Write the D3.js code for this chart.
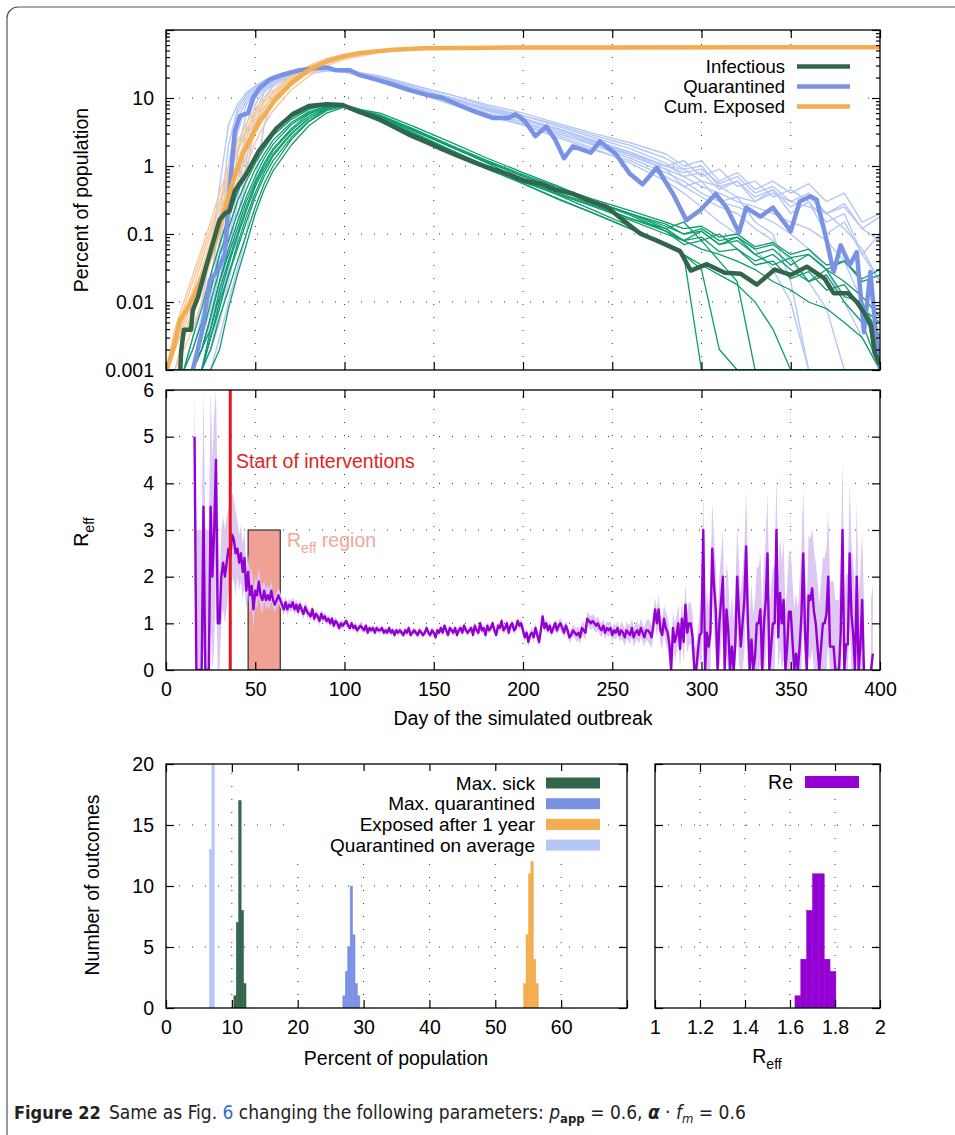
<!DOCTYPE html>
<html>
<head>
<meta charset="utf-8">
<script src="https://cdn.jsdelivr.net/npm/d3@7"></script>
<style>
  body { margin: 0; background: #fff; }
  text { font-family: "Liberation Sans", Arial, sans-serif; }
  .grid { stroke: #333; stroke-width: 1; stroke-dasharray: 1 12; }
</style>
</head>
<body>
<svg id="fig" width="955" height="1135"></svg>
<script>
// ---------------- data ----------------

// top panel: days at which the single runs were read
const dayGrid = [0,5,10,15,20,25,30,35,40,45,50,55,60,70,80,90,100,120,140,160,180,200,220,240,260,280,290,300,310,320,330,340,350,360,370,380,390,400];

// infectious, single runs (percent of population)
const infectiousRuns = [
  [0,0,0,0,0.002,0.006,0.02,0.05,0.12,0.3,0.6,1.1,1.8,3.5,5.8,7.5,7.8,5.0,2.9,1.7,1.0,0.62,0.4,0.27,0.17,0.11,0.08,0.09,0.055,0.06,0.035,0.04,0.022,0.028,0.015,0.018,0.008,0.005],
  [0,0,0,0.002,0.005,0.015,0.05,0.12,0.3,0.6,1.1,1.8,2.8,4.8,6.8,7.9,7.4,4.6,2.7,1.6,1.0,0.65,0.43,0.3,0.2,0.14,0.1,0.12,0.08,0.09,0.06,0.07,0.045,0.05,0.03,0.04,0.022,0.03],
  [0,0,0,0,0,0.002,0.006,0.015,0.04,0.1,0.25,0.55,1.0,2.4,4.5,6.5,7.6,5.2,3.0,1.7,0.95,0.55,0.33,0.2,0.12,0.07,0.05,0,0,0,0,0,0,0,0,0,0,0],
  [0,0,0,0.001,0.003,0.01,0.03,0.08,0.2,0.45,0.9,1.5,2.4,4.3,6.3,7.6,7.7,5.3,3.2,1.9,1.15,0.7,0.45,0.3,0.2,0.13,0.1,0.11,0.07,0.08,0.05,0.035,0.045,0.02,0.03,0.012,0.01,0.003],
  [0,0,0,0,0.002,0.004,0.012,0.035,0.09,0.22,0.5,0.9,1.5,3.0,5.0,7.0,7.7,5.1,2.9,1.6,0.9,0.55,0.32,0.2,0.12,0.07,0.05,0.035,0.025,0.018,0.01,0.004,0,0,0,0,0,0],
  [0,0,0,0,0,0.003,0.008,0.025,0.07,0.18,0.4,0.8,1.4,2.9,5.0,7.0,7.8,5.4,3.2,1.9,1.1,0.62,0.37,0.22,0.13,0.07,0.05,0.03,0.002,0,0,0,0,0,0,0,0,0],
  [0,0,0,0,0.001,0.003,0.01,0.025,0.06,0.15,0.35,0.7,1.2,2.6,4.6,6.8,7.9,5.6,3.4,2.0,1.2,0.75,0.48,0.32,0.22,0.15,0.12,0.13,0.09,0.1,0.065,0.075,0.05,0.06,0.035,0.04,0.02,0.025],
  [0,0,0,0.001,0.002,0.006,0.02,0.06,0.15,0.35,0.7,1.3,2.1,4.0,6.0,7.3,7.5,4.8,2.8,1.6,0.95,0.6,0.38,0.25,0.16,0.1,0.08,0.06,0.05,0.04,0.03,0.02,0.015,0.01,0.008,0.005,0.003,0],
  [0,0,0,0,0,0,0.002,0.008,0.025,0.07,0.2,0.45,0.85,2.0,3.9,6.0,7.4,6.0,3.7,2.2,1.3,0.8,0.5,0.3,0.19,0.11,0.07,0.08,0.04,0.02,0,0,0,0,0,0,0,0],
  [0,0,0.001,0.003,0.008,0.025,0.07,0.18,0.4,0.8,1.4,2.2,3.2,5.2,7.0,7.9,7.2,4.5,2.6,1.5,0.9,0.58,0.38,0.26,0.17,0.12,0.08,0.11,0.07,0.09,0.05,0.06,0.035,0.05,0.03,0.02,0.012,0.006],
  [0,0,0,0,0.001,0.004,0.015,0.04,0.1,0.25,0.55,1.0,1.7,3.3,5.4,7.2,7.8,5.5,3.3,1.9,1.15,0.72,0.45,0.3,0.2,0.12,0.15,0.08,0.1,0.06,0.04,0.05,0.03,0.02,0.025,0.01,0.005,0]
];

// quarantined, single runs
const quarantinedRuns = [
  [0,0,0,0.001,0.003,0.008,0.05,0.6,5,9,13,17,20,24,26,27,26,20,14,10,7,5.5,3.8,2.6,1.8,1.1,0.7,0.8,0.45,0.6,0.35,0.45,0.25,0.35,0.2,0.28,0.12,0.18],
  [0,0,0,0,0.002,0.005,0.02,0.1,1.5,6,11,15,19,23,26,27,25,19,13,9,6,4.5,3,2,1.3,0.8,0.6,0.4,0.3,0.25,0.2,0.15,0.1,0.06,0.03,0.01,0.003,0],
  [0,0,0,0,0.001,0.003,0.01,0.04,0.3,2.5,8,13,17,22,25,26,25,21,15,11,8,6,4.2,3,2.2,1.5,1.0,1.2,0.6,0.8,0.45,0.6,0.4,0.55,0.3,0.4,0.15,0.2],
  [0,0,0,0.002,0.006,0.02,0.15,2,7,11,15,18,21,25,27,27,24,18,12,8.5,5.5,4,2.8,1.8,1.1,0.6,0.4,0.25,0.15,0.1,0.06,0.03,0.01,0,0,0,0,0],
  [0,0,0,0,0,0.002,0.005,0.02,0.08,0.8,4,10,15,21,25,27,26,21,15,11,7.5,5.5,4,2.8,2,1.3,0.9,1.0,0.5,0.6,0.3,0.45,0.2,0.3,0.1,0.15,0.05,0.1],
  [0,0,0,0.001,0.004,0.012,0.08,1,6,10,14,17,20,24,26,26,24,18,12,8,5.5,4,2.6,1.7,1.2,0.7,0.5,0.35,0.25,0.2,0.12,0.08,0.04,0.02,0.008,0,0,0],
  [0,0,0,0,0.002,0.006,0.03,0.3,3,8,12,16,19,23,26,27,26,20,14,10,6.5,5,3.5,2.4,1.6,1.0,0.9,0.6,0.5,0.35,0.3,0.4,0.3,0.25,0.2,0.12,0.06,0.02],
  [0,0,0,0,0.001,0.004,0.015,0.06,0.5,4,10,14,18,22,25,26,25,19.5,13.5,9.5,6.5,4.8,3.2,2.2,1.4,0.9,0.7,0.5,0.4,0.3,0.25,0.2,0.15,0.12,0.08,0.04,0.01,0],
  [0,0,0,0,0,0.001,0.003,0.01,0.03,0.1,0.6,4,10,18,23,25,25,20,14,10,7,5,3.5,2.3,1.5,0.9,0.5,0.6,0.3,0.35,0.15,0.1,0.02,0,0,0,0,0],
  [0,0,0.001,0.003,0.01,0.05,0.5,4,8,12,15,18,21,25,27,28,26,19,12.5,8.5,6,4.2,3,2.1,1.5,1.0,0.8,0.9,0.55,0.7,0.4,0.5,0.3,0.4,0.2,0.25,0.12,0.08],
  [0,0,0,0,0.001,0.002,0.008,0.03,0.15,1.2,6,12,16,22,25,27,25,20,13.5,9.5,6.8,5,3.4,2.3,1.6,1.0,1.2,0.7,0.9,0.5,0.6,0.35,0.45,0.3,0.15,0.2,0.05,0.02]
];

// cumulative exposed, single runs
const exposedGrid = [0,5,10,15,20,25,30,35,40,45,50,55,60,70,80,90,100,120,140,160,200,400];
const exposedRuns = [
  [0.001,0.003,0.008,0.02,0.05,0.12,0.3,0.8,1.8,3.5,6,9,12,20,29,37,43,50,53,54.5,55.4,55.7],
  [0,0.002,0.004,0.01,0.025,0.06,0.15,0.4,1.0,2.2,4.2,7,10,18,27,35,41,49,53,54.5,55.5,56],
  [0,0.001,0.003,0.006,0.015,0.04,0.1,0.25,0.6,1.4,3,5,8,15,24,32,39,48,52.5,54,55,55.2],
  [0.001,0.002,0.006,0.015,0.04,0.1,0.25,0.7,1.6,3.2,5.5,8.5,11.5,19,28,36,42,50,53.5,55,55.8,56.2],
  [0,0.001,0.002,0.004,0.01,0.025,0.07,0.18,0.45,1.0,2.2,4,6.5,13,21,30,37,47,52,54,55,55.4],
  [0.001,0.002,0.005,0.012,0.03,0.08,0.2,0.5,1.2,2.6,4.8,7.5,10.5,18,26.5,34.5,40.5,49,53,54.5,55.3,55.6],
  [0,0.001,0.003,0.008,0.02,0.05,0.12,0.3,0.8,1.8,3.5,6,9,16,25,33,40,48.5,52.5,54.3,55,55.3],
  [0.001,0.004,0.01,0.025,0.06,0.15,0.4,1.0,2.2,4.2,7,10,13,21,30,38,44,51,54,55,55.8,56.3]
];

// averages, [day, percent]
const infectiousMean = [[8,0.001],[8.5,0.0019],[10,0.0039],[14,0.0039],[15,0.0076],[18,0.012],[22.7,0.035],[26,0.07],[30,0.16],[33,0.2],[35.7,0.22],[38.5,0.43],[45,0.76],[52,1.66],[62,3.6],[71,5.8],[80,7.6],[90,8.1],[99,7.9],[108,6.3],[118,5.1],[127,3.85],[136,2.9],[145,2.3],[155,1.75],[164,1.4],[173,1.12],[183,0.9],[192,0.76],[201,0.6],[210,0.55],[218,0.45],[228,0.39],[237,0.31],[247,0.25],[256,0.16],[266,0.1],[275,0.08],[288,0.056],[294,0.029],[303,0.036],[313,0.027],[322,0.026],[331,0.018],[341,0.03],[350,0.025],[359,0.033],[369,0.022],[374,0.0135],[382,0.0135],[387,0.01],[391,0.007],[395,0.0045],[397,0.0018],[400,0.0012]];
const quarantinedMean = [[15,0.001],[20,0.0035],[24.6,0.021],[29,0.029],[33,0.051],[34.8,0.245],[36.6,0.85],[38.5,3.2],[41.3,5.4],[46,6.0],[48.7,10],[52.4,14],[58,18.6],[65.5,22],[75,25.7],[84,27.5],[90,28.2],[95,25.7],[103,25.7],[108,21.9],[118,18.6],[127,15.8],[136,13.2],[145.5,11.2],[155,10],[164,7.9],[173,6.3],[183,5.1],[192,5.1],[196,5.75],[201,4.6],[207,2.75],[213,3.8],[218,2.45],[223,1.3],[228,1.95],[238,1.57],[243,2.3],[252,1.5],[260,0.76],[267,0.54],[275,0.95],[284,0.39],[291.5,0.16],[299,0.22],[308,0.39],[314,0.245],[321,0.105],[325,0.245],[333,0.18],[340,0.245],[350,0.11],[355,0.3],[361,0.36],[364.5,0.32],[370,0.083],[374,0.0275],[378,0.068],[383,0.035],[387,0.054],[391,0.0036],[394.6,0.0275],[398.5,0.0021],[400,0.001]];
const exposedMean = [[0.4,0.001],[4,0.002],[7.8,0.0054],[11.5,0.0076],[15.3,0.012],[21,0.026],[26.5,0.063],[32,0.2],[37.6,0.6],[43,1.5],[52.4,4.6],[62,10],[71,17.4],[80,25.7],[90,34.7],[99,40.7],[108,45.7],[127,51.3],[145,53.7],[183,55],[250,55.5],[400,55.6]];

// middle panel: daily R_eff from day 16 to day 400 (null = not drawn)
const reffFirstDay = 16;
const reff = [
  5,0,0,0,0,3.5,0,0,0,3.5,2.0,3.0,4.5,1.0,1.0,2.0,2.3,2.0,2.3,2.6,2.4,2.9,2.8,2.5,2.6,2.3,2.5,2.1,2.4,1.7,
  2.1,1.6,1.8,1.3,1.7,1.6,1.9,1.6,1.5,1.7,1.5,1.6,1.5,1.7,1.5,1.4,1.5,1.6,1.5,1.4,1.3,1.45,1.3,1.4,
  1.35,1.45,1.3,1.4,1.25,1.4,1.3,1.2,1.35,1.25,1.2,1.15,1.3,1.1,1.2,1.15,1.05,1.2,1.1,1.15,
  1.05,1.1,1.0,1.1,0.95,1.05,1.0,0.9,1.0,0.95,1.0,1.05,0.95,0.9,1.0,0.9,0.95,0.85,0.9,0.95,
  0.9,0.85,0.95,0.8,0.9,0.85,0.9,0.8,0.9,0.85,
  0.85,0.9,0.8,0.85,0.8,0.9,0.8,0.85,0.75,0.85,0.8,0.85,0.8,0.75,0.85,0.8,0.9,0.75,0.8,0.85,
  0.8,0.75,0.85,0.8,0.75,0.8,0.9,0.8,0.75,0.85,0.8,0.7,0.85,0.8,0.9,0.8,0.95,0.85,0.75,0.9,
  0.85,0.8,0.9,0.75,0.85,0.9,0.8,0.95,0.85,0.8,
  0.85,0.9,0.75,0.95,0.85,0.8,1.0,0.85,0.9,0.75,0.95,0.85,0.9,1.0,0.85,0.75,0.95,0.9,1.05,0.85,
  0.9,1.0,0.8,0.95,1.0,0.85,0.9,1.05,0.95,1.0,0.85,0.7,0.8,0.6,0.75,0.8,0.7,0.9,0.75,0.6,
  0.85,1.15,0.9,1.0,0.85,0.95,0.8,0.9,1.0,0.85,
  0.95,1.0,0.9,0.8,0.95,0.85,0.7,0.75,0.85,0.8,0.75,0.8,0.7,0.9,0.85,0.8,1.1,1.05,1.0,1.05,
  1.0,0.95,1.0,0.9,0.85,0.95,0.8,0.9,0.85,0.9,0.75,0.85,0.8,0.9,0.75,0.85,0.8,0.7,0.85,0.8,
  0.75,0.9,0.7,0.8,0.85,0.75,0.9,0.8,0.7,0.85,
  0.85,0.8,0.7,0.95,1.3,1.0,1.3,0.85,0.75,1.1,0.9,0.8,0.55,0,0.9,0.6,0.75,1.0,0.45,1.1,0.6,1.4,0.8,1.0,
  1.0,0.7,0,0,0.4,0.75,0.8,3.0,0,0.8,0.5,0.8,2.6,1.8,1.3,0,1.0,1.5,2.0,0,
  1.3,0.85,0,0.5,0,0.6,2.0,1.2,0.5,1.0,1.5,2.65,1.0,0,0.65,0,0.3,1.0,1.0,1.3,
  0,1.0,1.5,2.5,0,0.5,1.0,1.0,3.0,0.7,1.65,1.0,1.5,0,0.5,1.25,1.25,0.6,0,0.35,
  0,0.5,1.2,2.5,0.8,0,1.6,1.5,1.75,1.25,1.0,0.5,0,0.5,1.0,1.0,1.2,2.0,0.5,0.5,
  0.5,0,0,0,0.8,3.0,0,0.55,0.55,2.5,1.2,0.75,0,2.0,0,0.5,1.5,0,null,null,
  null,0,0.35,null,null,null,null
];
// half width of the shaded band, one value per 5 days starting at day 15
const reffBand = [3,3,2.5,1.0,0.9,0.6,0.4,0.3,0.22,0.16,0.13,0.12,0.11,
  0.1,0.1,0.09,0.09,
  0.08,0.08,0.07,0.07,0.07,0.07,0.07,0.07,0.07,0.07,0.07,0.07,0.07,0.08,0.08,0.08,0.08,0.08,0.09,0.09,
  0.1,0.12,0.1,0.1,0.12,0.12,0.15,0.15,0.15,0.15,
  0.15,0.18,0.2,0.2,0.25,0.3,0.35,0.4,0.45,0.5,
  0.9,1.0,1.0,1.1,1.1,1.2,1.2,1.3,1.2,1.3,1.3,1.4,1.3,1.4,1.4,1.5,1.5,1.6,1.5,1.5,
  0.3];
const interventionDay = 36;
const reffRegion = [46, 64];
const reffRegionTop = 3;

// bottom histograms (bin width and counts)
const pctBin = 0.37;
const sickFrom = 10.3, sickCounts = [1, 7, 17, 8, 2];
const quarMaxFrom = 26.85, quarMaxCounts = [1, 3, 5, 10, 6, 2, 1];
const exposedFrom = 54.3, exposedCounts = [2, 6, 11, 12, 4, 2];
const quarAvgFrom = 6.6, quarAvgCounts = [13, 22];
const reBin = 0.026, reFrom = 1.622, reCounts = [1, 4, 8, 11, 11, 4, 3];

// tick values
const dayTicks = [0, 50, 100, 150, 200, 250, 300, 350, 400];
const pctTicks = [0.001, 0.01, 0.1, 1, 10, 100];
const reffTicks = [0, 1, 2, 3, 4, 5, 6];
const histXTicks = [0, 10, 20, 30, 40, 50, 60, 70];
const countTicks = [0, 5, 10, 15, 20];
const reTicks = [1, 1.2, 1.4, 1.6, 1.8, 2];

// ---------------- colours ----------------
const darkGreen = '#33654b', runGreen = '#0d9c6d';
const blue = '#7a92e4', lightBlue = '#b5c7f7';
const orange = '#f3ad50', lightOrange = '#f5c99b';
const purple = '#9400d3', lavender = '#dcc8f0';

const svg = d3.select('#fig');

// outer frame of the figure
svg.append('path').attr('d', 'M7,1145 V18 A11,11 0 0 1 18,7 H960')
  .attr('fill', 'none').attr('stroke', '#555').attr('stroke-width', 1.2);

// ---------------- scales ----------------
const xDay = d3.scaleLinear().domain([0, 400]).range([166, 880]);
const yPct = d3.scaleLog().domain([0.001, 100]).range([370, 30]);
const yReff = d3.scaleLinear().domain([0, 6]).range([670, 390]);
const xPct = d3.scaleLinear().domain([0, 70]).range([166, 627]);
const yCount = d3.scaleLinear().domain([0, 20]).range([1008, 764]);
const xRe = d3.scaleLinear().domain([1, 2]).range([655, 880]);

const defs = svg.append('defs');
function clip(id, x, y) {
  const [x0, x1] = x.range(), [y0, y1] = y.range();
  defs.append('clipPath').attr('id', id).append('rect')
    .attr('x', x0).attr('y', y1).attr('width', x1 - x0).attr('height', y0 - y1);
  return `url(#${id})`;
}

function grid(g, x, y, xs, ys) {
  const [x0, x1] = x.range(), [y0, y1] = y.range();
  g.append('g').selectAll('line').data(xs).join('line').attr('class', 'grid')
    .attr('x1', d => x(d)).attr('x2', d => x(d)).attr('y1', y0).attr('y2', y1);
  g.append('g').selectAll('line').data(ys).join('line').attr('class', 'grid')
    .attr('y1', d => y(d)).attr('y2', d => y(d)).attr('x1', x0).attr('x2', x1);
}

// box with inward ticks on all four sides (gnuplot style)
function frame(g, x, y, o) {
  const [x0, x1] = x.range(), [y0, y1] = y.range();
  const none = () => '';
  const ax = (axis, tx, ty, fmt, size) => g.append('g')
    .attr('transform', `translate(${tx},${ty})`)
    .call(axis.tickSizeInner(-size).tickSizeOuter(0).tickPadding(12).tickFormat(fmt))
    .call(s => s.select('.domain').remove())
    .attr('font-size', 19.5).attr('font-family', null).attr('color', '#000')
    .call(s => s.selectAll('line').attr('stroke-width', 1.2));
  ax(d3.axisBottom(x).tickValues(o.xTicks), 0, y0, o.xFormat || none, 8);
  ax(d3.axisTop(x).tickValues(o.xTicks), 0, y1, none, 8);
  ax(d3.axisLeft(y).tickValues(o.yTicks), x0, 0, o.yFormat || none, 8);
  ax(d3.axisRight(y).tickValues(o.yTicks), x1, 0, none, 8);
  if (o.yMinor) {
    ax(d3.axisLeft(y).tickValues(o.yMinor), x0, 0, none, 4);
    ax(d3.axisRight(y).tickValues(o.yMinor), x1, 0, none, 4);
  }
  g.append('rect').attr('x', x0).attr('y', y1).attr('width', x1 - x0).attr('height', y0 - y1)
    .attr('fill', 'none').attr('stroke', '#000').attr('stroke-width', 1.3);
}

function reffText(sel, size) {
  sel.append('tspan').text('R');
  sel.append('tspan').attr('font-size', size * 0.72).attr('dy', size * 0.3).text('eff');
}

// ---------------- top panel ----------------
const panelTop = svg.append('g');
grid(panelTop, xDay, yPct, dayTicks.slice(1, -1), pctTicks.slice(1, -1));

const pctLine = d3.line().x(d => xDay(d[0])).y(d => yPct(Math.max(d[1], 0.001)));
const runs = (rows, days) => rows.map(r => days.map((d, i) => [d, r[i]]));
const plot = panelTop.append('g').attr('clip-path', clip('clipTop', xDay, yPct))
  .attr('fill', 'none').attr('stroke-linejoin', 'round');

plot.selectAll('.qrun').data(runs(quarantinedRuns, dayGrid)).join('path')
  .attr('d', pctLine).attr('stroke', lightBlue).attr('stroke-width', 1.4);
plot.selectAll('.erun').data(runs(exposedRuns, exposedGrid)).join('path')
  .attr('d', pctLine).attr('stroke', lightOrange).attr('stroke-width', 1.4);
plot.selectAll('.irun').data(runs(infectiousRuns, dayGrid)).join('path')
  .attr('d', pctLine).attr('stroke', runGreen).attr('stroke-width', 1.3);
plot.append('path').datum(quarantinedMean).attr('d', pctLine).attr('stroke', blue).attr('stroke-width', 4.5);
plot.append('path').datum(exposedMean).attr('d', pctLine).attr('stroke', orange).attr('stroke-width', 4.5);
plot.append('path').datum(infectiousMean).attr('d', pctLine).attr('stroke', darkGreen).attr('stroke-width', 4.5);

const minorPct = [];
[0.001, 0.01, 0.1, 1, 10].forEach(p => { for (let k = 2; k <= 9; k++) minorPct.push(p * k); });
frame(panelTop, xDay, yPct, {
  xTicks: dayTicks, yTicks: pctTicks, yMinor: minorPct,
  yFormat: d => (d === 100 ? '' : String(d))
});

const topKeys = [
  { label: 'Infectious', color: darkGreen },
  { label: 'Quarantined', color: blue },
  { label: 'Cum. Exposed', color: orange }
];
panelTop.append('rect').attr('x', 646).attr('y', 55).attr('width', 216).attr('height', 63).attr('fill', '#fff');
const tk = panelTop.selectAll('.key').data(topKeys).join('g')
  .attr('transform', (d, i) => `translate(0,${66.5 + i * 20})`);
tk.append('text').attr('x', 785).attr('dy', '0.35em').attr('text-anchor', 'end')
  .attr('font-size', 18.5).text(d => d.label);
tk.append('line').attr('x1', 797).attr('x2', 850).attr('stroke', d => d.color).attr('stroke-width', 4.5);

svg.append('text').attr('transform', 'translate(88,200) rotate(-90)').attr('text-anchor', 'middle')
  .attr('font-size', 19.5).text('Percent of population');

// ---------------- middle panel ----------------
const panelMid = svg.append('g');
grid(panelMid, xDay, yReff, dayTicks.slice(1, -1), reffTicks.slice(1, -1));

const reffPts = reff.map((v, i) => {
  const day = reffFirstDay + i;
  const e = reffBand[Math.floor((day - 15) / 5)];
  return { day, v, lo: v == null ? null : Math.max(0, v - e), hi: v == null ? null : Math.min(6, v + e) };
});
const midPlot = panelMid.append('g').attr('clip-path', clip('clipMid', xDay, yReff));
midPlot.append('rect')
  .attr('x', xDay(reffRegion[0])).attr('width', xDay(reffRegion[1]) - xDay(reffRegion[0]))
  .attr('y', yReff(reffRegionTop)).attr('height', yReff(0) - yReff(reffRegionTop))
  .attr('fill', '#f0a194').attr('stroke', '#222').attr('stroke-width', 1.1);
midPlot.append('path').datum(reffPts)
  .attr('d', d3.area().defined(d => d.v != null).x(d => xDay(d.day)).y0(d => yReff(d.lo)).y1(d => yReff(d.hi)))
  .attr('fill', lavender);
midPlot.append('path').datum(reffPts)
  .attr('d', d3.line().defined(d => d.v != null).x(d => xDay(d.day)).y(d => yReff(d.v)))
  .attr('fill', 'none').attr('stroke', purple).attr('stroke-width', 2.4).attr('stroke-linejoin', 'round');
midPlot.append('line').attr('x1', xDay(interventionDay)).attr('x2', xDay(interventionDay))
  .attr('y1', yReff(0)).attr('y2', yReff(6)).attr('stroke', '#e8161b').attr('stroke-width', 3);

frame(panelMid, xDay, yReff, { xTicks: dayTicks, yTicks: reffTicks, xFormat: String, yFormat: String });

panelMid.append('text').attr('x', 236).attr('y', 468).attr('font-size', 19.5).attr('fill', '#e0231d')
  .text('Start of interventions');
const rr = panelMid.append('text').attr('x', 287).attr('y', 547).attr('font-size', 19.5).attr('fill', '#f3a596');
reffText(rr, 19.5);
rr.append('tspan').attr('dy', -19.5 * 0.3).text(' region');

const yl = svg.append('text').attr('transform', 'translate(88,532) rotate(-90)').attr('text-anchor', 'middle')
  .attr('font-size', 19.5);
reffText(yl, 19.5);
svg.append('text').attr('x', 523).attr('y', 725).attr('text-anchor', 'middle').attr('font-size', 19.5)
  .text('Day of the simulated outbreak');

// ---------------- bottom left histogram ----------------
const hl = svg.append('g');
grid(hl, xPct, yCount, histXTicks.slice(1, -1), countTicks.slice(1, -1));
const bins = (from, w, counts) => counts.map((c, i) => ({ x0: from + i * w, x1: from + (i + 1) * w, c }));
const histSeries = [
  { label: 'Max. sick', color: darkGreen, bars: bins(sickFrom, pctBin, sickCounts) },
  { label: 'Max. quarantined', color: blue, bars: bins(quarMaxFrom, pctBin, quarMaxCounts) },
  { label: 'Exposed after 1 year', color: orange, bars: bins(exposedFrom, pctBin, exposedCounts) },
  { label: 'Quarantined on average', color: lightBlue, bars: bins(quarAvgFrom, pctBin, quarAvgCounts) }
];
const hlPlot = hl.append('g').attr('clip-path', clip('clipHL', xPct, yCount));
histSeries.forEach(s => {
  hlPlot.append('g').selectAll('rect').data(s.bars).join('rect')
    .attr('x', d => xPct(d.x0)).attr('width', d => xPct(d.x1) - xPct(d.x0))
    .attr('y', d => yCount(d.c)).attr('height', d => yCount(0) - yCount(d.c))
    .attr('fill', s.color).attr('stroke', s.color).attr('stroke-width', 0.5);
});
frame(hl, xPct, yCount, {
  xTicks: histXTicks, yTicks: countTicks,
  xFormat: d => (d === 70 ? '' : String(d)), yFormat: String
});
hl.append('rect').attr('x', 290).attr('y', 771).attr('width', 316).attr('height', 83).attr('fill', '#fff');
const hk = hl.selectAll('.hkey').data(histSeries).join('g')
  .attr('transform', (d, i) => `translate(0,${783 + i * 20.7})`);
hk.append('text').attr('x', 535).attr('dy', '0.35em').attr('text-anchor', 'end').attr('font-size', 19)
  .text(d => d.label);
hk.append('rect').attr('x', 546).attr('y', -5.5).attr('width', 54).attr('height', 11).attr('fill', d => d.color);

svg.append('text').attr('transform', 'translate(99,885) rotate(-90)').attr('text-anchor', 'middle')
  .attr('font-size', 19.5).text('Number of outcomes');
svg.append('text').attr('x', 396).attr('y', 1065).attr('text-anchor', 'middle').attr('font-size', 19.5)
  .text('Percent of population');

// ---------------- bottom right histogram ----------------
const hr = svg.append('g');
grid(hr, xRe, yCount, reTicks.slice(1, -1), countTicks.slice(1, -1));
hr.append('g').attr('clip-path', clip('clipHR', xRe, yCount))
  .selectAll('rect').data(bins(reFrom, reBin, reCounts)).join('rect')
  .attr('x', d => xRe(d.x0)).attr('width', d => xRe(d.x1) - xRe(d.x0))
  .attr('y', d => yCount(d.c)).attr('height', d => yCount(0) - yCount(d.c))
  .attr('fill', purple).attr('stroke', purple).attr('stroke-width', 0.5);
frame(hr, xRe, yCount, { xTicks: reTicks, yTicks: countTicks, xFormat: String });
hr.append('rect').attr('x', 745).attr('y', 771).attr('width', 120).attr('height', 24).attr('fill', '#fff');
hr.append('text').attr('x', 793).attr('y', 782).attr('dy', '0.35em').attr('text-anchor', 'end')
  .attr('font-size', 19.5).text('Re');
hr.append('rect').attr('x', 805).attr('y', 776).attr('width', 54).attr('height', 12).attr('fill', purple);
const xrLabel = svg.append('text').attr('x', 767).attr('y', 1063).attr('text-anchor', 'middle').attr('font-size', 19.5);
reffText(xrLabel, 19.5);

// ---------------- caption ----------------
const cap = svg.append('text').attr('x', 14).attr('y', 1119).attr('font-size', 19)
  .style('font-family', '"Liberation Sans Narrow", "DejaVu Sans Condensed", sans-serif').attr('fill', '#222');
cap.append('tspan').attr('font-weight', 'bold').attr('font-size', 18).text('Figure 22');
cap.append('tspan').attr('dx', 8).text('Same as Fig. ');
cap.append('tspan').attr('fill', '#2f6fc0').text('6');
cap.append('tspan').text(' changing the following parameters: ');
cap.append('tspan').attr('font-style', 'italic').text('p');
cap.append('tspan').attr('font-weight', 'bold').attr('font-size', 13).attr('dy', 4).text('app');
cap.append('tspan').attr('dy', -4).text(' = 0.6, ');
cap.append('tspan').attr('font-style', 'italic').attr('font-weight', 'bold').text('α');
cap.append('tspan').text(' · ');
cap.append('tspan').attr('font-style', 'italic').text('f');
cap.append('tspan').attr('font-style', 'italic').attr('font-size', 13).attr('dy', 4).text('m');
cap.append('tspan').attr('dy', -4).text(' = 0.6');
</script>
</body>
</html>
